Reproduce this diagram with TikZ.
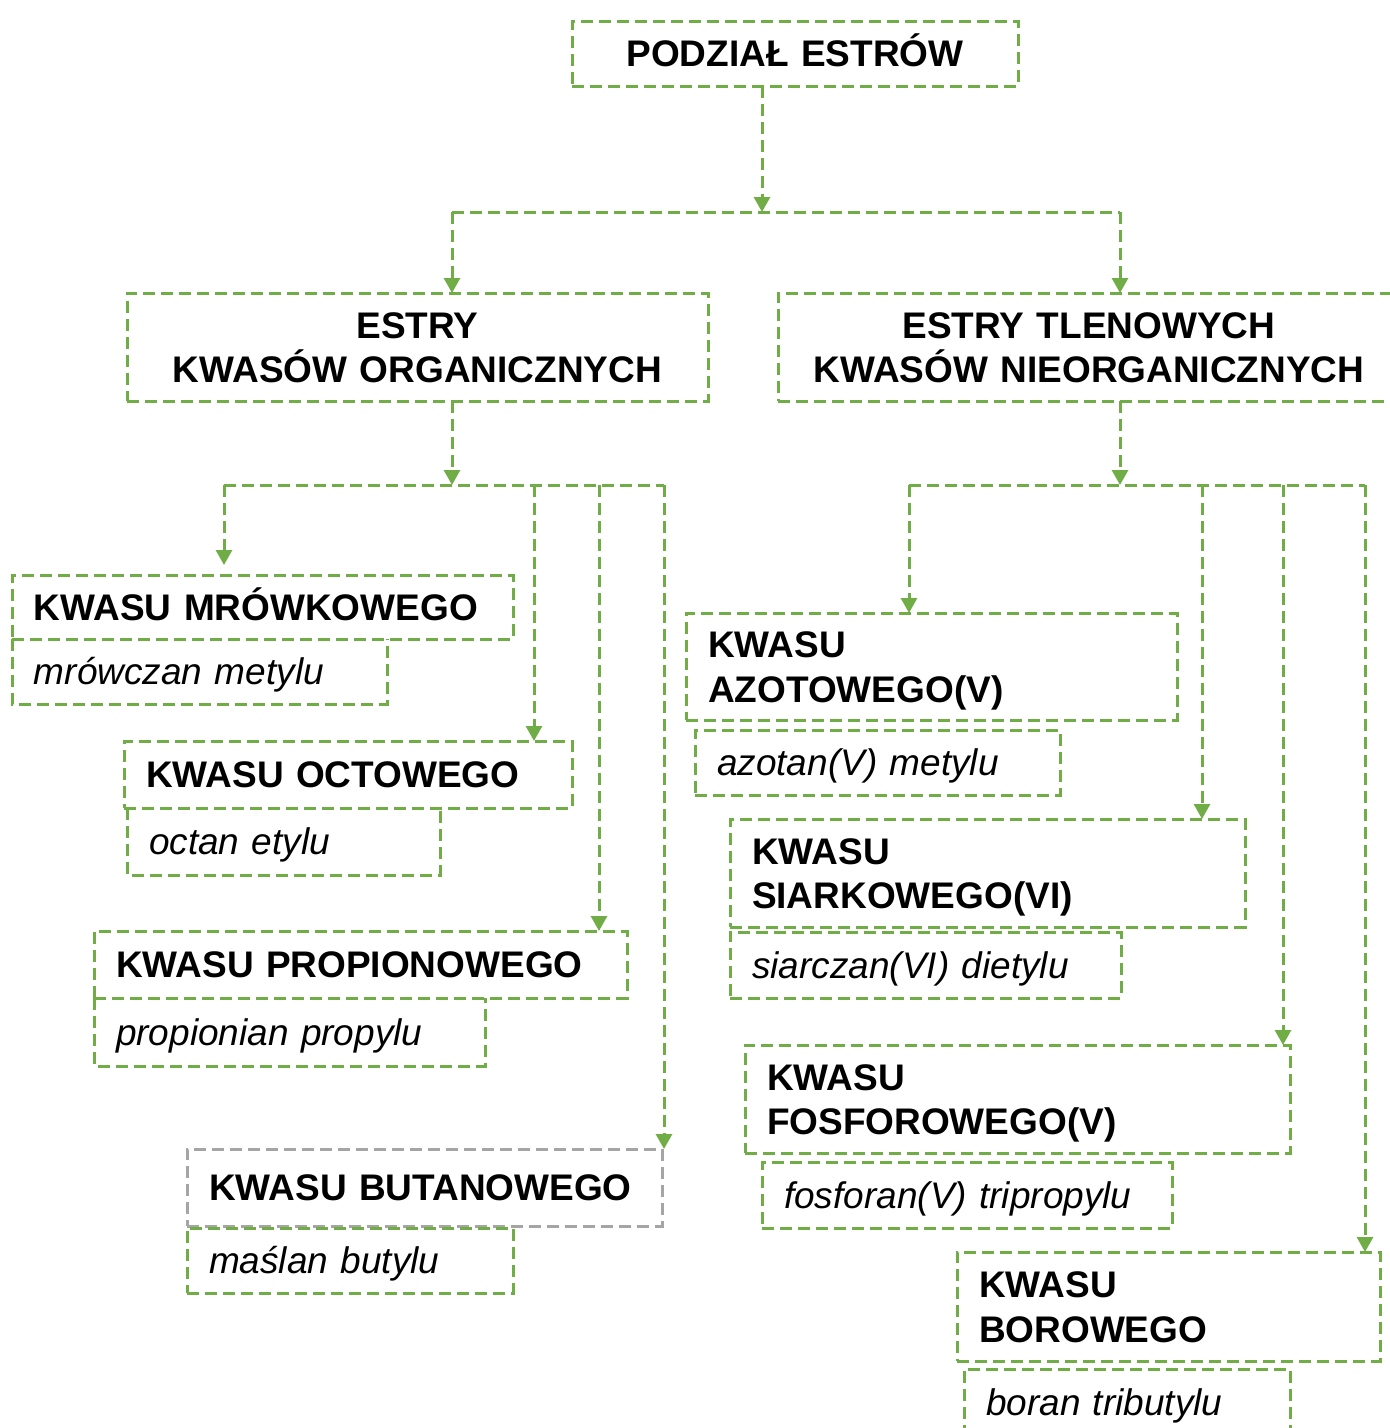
\documentclass[tikz,border=0pt]{standalone}
\usepackage{fontspec}
\setmainfont{Liberation Sans}
\usetikzlibrary{arrows.meta}
\definecolor{estgreen}{HTML}{70AD47}
\definecolor{estgray}{HTML}{A5A5A5}
\newcommand{\kstrut}{\rule[-8.4pt]{0pt}{43.4pt}}

\begin{document}
\begin{tikzpicture}[x=1pt,y=-1pt,
    ramka/.style={draw=estgreen, line width=3pt, dash pattern=on 12pt off 6pt,
      anchor=north west, outer sep=0pt, inner xsep=22pt, inner ysep=0pt,
      execute at begin node=\kstrut, execute at end node=\kstrut},
    naglowek/.style={ramka, font={\bfseries\fontsize{37}{43}\selectfont}, align=center},
    kwas/.style={ramka, font={\bfseries\fontsize{37}{43}\selectfont}, align=left},
    przyklad/.style={ramka, font={\itshape\fontsize{37}{43}\selectfont}, align=left},
    linia/.style={estgreen, line width=3pt, dash pattern=on 12pt off 6pt},
    strzalka/.style={linia, -{Triangle[width=16pt,length=15pt]}}]

    \useasboundingbox (0,0) rectangle (1390,1428);

    % Naglowek
    \node[naglowek, text width=402pt, minimum height=65] (podzial) at (572,21) {PODZIAŁ ESTRÓW};

    % Dwie grupy estrow
    \node[naglowek, text width=537pt, minimum height=108] (org) at (127,293) {ESTRY\\KWASÓW ORGANICZNYCH};
    \node[naglowek, text width=578pt, minimum height=108] (nieorg) at (778,293) {ESTRY TLENOWYCH\\KWASÓW NIEORGANICZNYCH};

    % Kwasy organiczne (przyklady bez gornej krawedzi - wspolna z ramka kwasu)
    \node[kwas, text width=457pt, minimum height=64] (mrow) at (12,575) {KWASU MRÓWKOWEGO};
    \node[przyklad, draw=none, text width=331pt, minimum height=65] (mrowp) at (12,639) {mrówczan metylu};
    \node[kwas, text width=404pt, minimum height=67] (oct) at (124,741) {KWASU OCTOWEGO};
    \node[przyklad, draw=none, text width=269pt, minimum height=67] (octp) at (127,808) {octan etylu};
    \node[kwas, text width=489pt, minimum height=67] (prop) at (94,931) {KWASU PROPIONOWEGO};
    \node[przyklad, draw=none, text width=347pt, minimum height=68] (propp) at (94,998) {propionian propylu};
    \node[kwas, draw=estgray, text width=431pt, minimum height=77] (but) at (187,1149) {KWASU BUTANOWEGO};
    \node[przyklad, text width=282pt, minimum height=65] (butp) at (187,1228) {maślan butylu};
    \foreach \p in {mrowp, octp, propp}
        \draw[linia] (\p.north west) |- (\p.south east) -- (\p.north east);

    % Kwasy nieorganiczne
    \node[kwas, text width=447pt, minimum height=107] (azot) at (686,613) {KWASU\\AZOTOWEGO(V)};
    \node[przyklad, text width=321pt, minimum height=65] (azotp) at (695,730) {azotan(V) metylu};
    \node[kwas, text width=471pt, minimum height=108] (siark) at (730,819) {KWASU\\SIARKOWEGO(VI)};
    \node[przyklad, text width=347pt, minimum height=66] (siarkp) at (730,932) {siarczan(VI) dietylu};
    \node[kwas, text width=501pt, minimum height=108] (fosf) at (745,1045) {KWASU\\FOSFOROWEGO(V)};
    \node[przyklad, text width=366pt, minimum height=66] (fosfp) at (762,1162) {fosforan(V) tripropylu};
    \node[kwas, text width=379pt, minimum height=109] (bor) at (957,1252) {KWASU\\BOROWEGO};
    \node[przyklad, text width=282pt, minimum height=66] (borp) at (964,1369) {boran tributylu};

    % Rozgalezienie glowne
    \coordinate (rozg) at (762,212);
    \coordinate (rozgL) at (452,212);
    \coordinate (rozgP) at (1120,212);
    \draw[strzalka] (podzial.south -| rozg) -- (rozg);
    \draw[linia] (rozgL) -- (rozgP);
    \draw[strzalka] (rozgL) -- (org.north -| rozgL);
    \draw[strzalka] (rozgP) -- (nieorg.north -| rozgP);

    % Szyna lewa
    \coordinate (szynaL) at (452,485);
    \coordinate (lo1) at (224,485);
    \coordinate (lo2) at (534,485);
    \coordinate (lo3) at (599,485);
    \coordinate (lo4) at (664,485);
    \draw[strzalka] (org.south -| szynaL) -- (szynaL);
    \draw[linia] (lo1) -- (lo4);
    \draw[strzalka, shorten >=10pt] (lo1) -- (mrow.north -| lo1);
    \foreach \c/\n in {lo2/oct, lo3/prop, lo4/but}
        \draw[strzalka] (\c) -- (\n.north -| \c);

    % Szyna prawa
    \coordinate (szynaP) at (1120,485);
    \coordinate (po1) at (909,485);
    \coordinate (po2) at (1202,485);
    \coordinate (po3) at (1283,485);
    \coordinate (po4) at (1365,485);
    \draw[strzalka] (nieorg.south -| szynaP) -- (szynaP);
    \draw[linia] (po1) -- (po4);
    \foreach \c/\n in {po1/azot, po2/siark, po3/fosf, po4/bor}
        \draw[strzalka] (\c) -- (\n.north -| \c);
\end{tikzpicture}
\end{document}
